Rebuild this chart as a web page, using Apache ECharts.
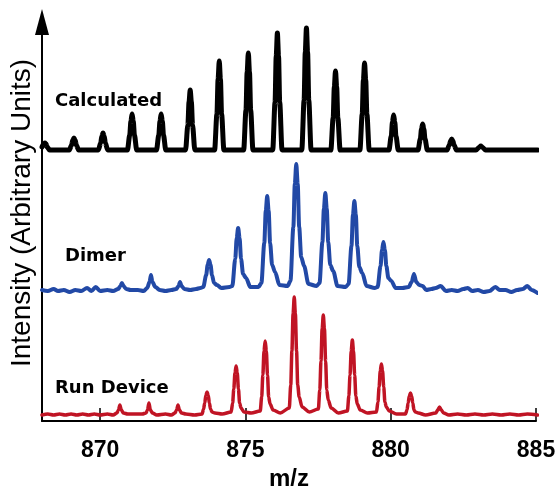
<!DOCTYPE html>
<html>
<head>
<meta charset="utf-8">
<script src="https://cdn.jsdelivr.net/npm/echarts@6/dist/echarts.min.js"></script>
<style>
html,body{margin:0;padding:0;background:#fff;}
#chart{width:558px;height:486px;}
</style>
</head>
<body>
<div id="chart"></div>
<script>
// x-axis ticks
const tickValues = [870, 875, 880, 885];
const traceNames = ['Calculated', 'Dimer', 'Run Device'];

// Calculated (black) trace: m/z and intensity points
const calcMz = [868.00,868.06,868.10,868.14,868.18,868.26,
  868.94,869.02,869.06,869.10,869.14,869.18,869.26,
  869.94,870.02,870.06,870.10,870.14,870.18,870.26,
  870.94,871.02,871.06,871.10,871.14,871.18,871.26,
  871.94,872.02,872.06,872.10,872.14,872.18,872.26,
  872.94,873.02,873.06,873.10,873.14,873.18,873.26,
  873.94,874.02,874.06,874.10,874.14,874.18,874.26,
  874.94,875.02,875.06,875.10,875.14,875.18,875.26,
  875.94,876.02,876.06,876.10,876.14,876.18,876.26,
  876.94,877.02,877.06,877.10,877.14,877.18,877.26,
  877.94,878.02,878.06,878.10,878.14,878.18,878.26,
  878.94,879.02,879.06,879.10,879.14,879.18,879.26,
  879.94,880.02,880.06,880.10,880.14,880.18,880.26,
  880.94,881.02,881.06,881.10,881.14,881.18,881.26,
  881.94,882.02,882.06,882.10,882.14,882.18,882.26,
  882.94,883.02,883.06,883.10,883.14,883.18,883.26,
  885.05];
const calcInt = [3,6,7,6,3,0,
  0,5,10,12,10,5,0,
  0,7,14,17,14,7,0,
  0,15,29,36,29,15,0,
  0,15,29,36,29,15,0,
  0,25,48,60,48,25,0,
  0,36,71,89,71,36,0,
  0,40,78,97,78,40,0,
  0,48,94,117,94,48,0,
  0,50,98,122,98,50,0,
  0,32,63,79,63,32,0,
  0,36,70,87,70,36,0,
  0,14,28,35,28,14,0,
  0,11,21,26,21,11,0,
  0,5,9,11,9,5,0,
  0,2,3,4,3,2,0,
  0];

// Dimer (blue) trace
const dimerMz = [868.00,868.20,868.40,868.55,868.75,868.95,869.15,869.35,869.55,869.70,869.85,870.00,870.25,870.45,
  870.62,870.70,870.75,870.80,870.90,871.05,871.30,871.50,
  871.62,871.70,871.75,871.80,871.90,872.05,872.25,872.45,
  872.62,872.70,872.75,872.80,872.90,873.10,873.30,
  873.45,873.55,873.65,873.70,873.75,873.80,873.85,873.92,874.02,874.17,
  874.45,874.55,874.65,874.70,874.75,874.80,874.85,874.92,875.02,875.17,
  875.45,875.55,875.65,875.70,875.75,875.80,875.85,875.92,876.02,876.17,
  876.45,876.55,876.65,876.70,876.75,876.80,876.85,876.92,877.02,877.17,
  877.45,877.55,877.65,877.70,877.75,877.80,877.85,877.92,878.02,878.17,
  878.45,878.55,878.65,878.70,878.75,878.80,878.85,878.92,879.02,879.17,
  879.45,879.55,879.65,879.70,879.75,879.80,879.85,879.92,880.02,880.17,
  880.40,880.62,880.72,880.80,880.88,880.98,881.10,881.22,881.40,881.55,881.72,881.90,
  882.10,882.30,882.50,882.65,882.80,883.00,883.20,883.40,883.60,883.75,883.95,
  884.15,884.35,884.55,884.70,884.85,885.05];
const dimerInt = [1,0,2,0,1,-1,1,0,3,0,4,0,1,0,
  2,5,8,5,2,1,1,0,
  3,9,16,9,4,1,0,1,
  2,5,9,5,2,1,2,
  3,4,16,26,31,26,16,8,6,3,
  4,5,32,53,63,53,32,17,13,4,
  4,8,48,80,95,80,48,26,19,6,
  5,10,64,107,127,107,64,34,25,7,
  5,8,49,82,98,82,49,26,20,5,
  4,7,45,76,90,76,45,24,18,5,
  3,4,25,41,49,41,25,13,10,3,
  3,4,9,17,9,6,5,1,2,3,5,0,
  1,0,2,3,0,1,-1,0,4,1,1,
  -1,1,2,5,1,-2];

// Run Device (red) trace
const runMz = [868.00,868.20,868.40,868.60,868.80,869.00,869.20,869.40,869.60,869.80,870.00,870.25,870.45,
  870.58,870.63,870.68,870.73,870.80,870.95,871.25,871.45,
  871.58,871.63,871.68,871.73,871.80,871.95,872.25,872.45,
  872.58,872.63,872.68,872.73,872.80,872.95,873.25,
  873.51,873.56,873.60,873.64,873.68,873.72,873.76,873.80,873.85,873.95,874.20,
  874.51,874.56,874.60,874.64,874.68,874.72,874.76,874.80,874.85,874.95,875.20,
  875.51,875.56,875.60,875.64,875.68,875.72,875.76,875.80,875.85,875.95,876.20,
  876.51,876.56,876.60,876.64,876.68,876.72,876.76,876.80,876.85,876.95,877.20,
  877.51,877.56,877.60,877.64,877.68,877.72,877.76,877.80,877.85,877.95,878.20,
  878.51,878.56,878.60,878.64,878.68,878.72,878.76,878.80,878.85,878.95,879.20,
  879.51,879.56,879.60,879.64,879.68,879.72,879.76,879.80,879.85,879.95,880.20,
  880.51,880.56,880.60,880.64,880.68,880.72,880.76,880.80,880.85,880.95,881.20,
  881.55,881.62,881.68,881.74,881.82,882.00,882.30,882.60,882.90,883.20,883.50,883.80,884.10,884.40,884.70,885.05];
const runInt = [0,1,0,1,0,1,0,1,0,1,0,1,0,
  2,5,10,5,2,1,1,1,
  2,5,12,5,2,0,1,0,
  2,5,10,5,2,1,0,
  1,6,12,20,23,20,12,6,3,2,1,
  3,12,26,42,49,42,26,12,7,3,2,
  4,18,40,64,74,64,40,18,11,5,2,
  7,30,64,101,118,101,64,30,18,8,3,
  6,25,54,86,100,86,54,25,15,7,2,
  4,19,40,64,75,64,40,19,11,5,2,
  3,13,28,44,51,44,28,13,8,4,1,
  1,5,12,19,22,19,12,5,3,2,0,
  2,5,8,5,2,0,1,0,1,0,1,0,1,0,1,0];

const offsets = [271, 130, 6];
const colors = ['#000000', '#2249a6', '#c01424'];
const widths = [5, 4, 3.5];

function build(mz, inten, off) {
  return mz.map((m, i) => [m, inten[i] + off]);
}

const chart = echarts.init(document.getElementById('chart'));
const LIB = '"Liberation Sans", Arial, sans-serif';
const DJ = '"DejaVu Sans", sans-serif';

chart.setOption({
  animation: false,
  backgroundColor: '#ffffff',
  grid: {left: 42, right: 22, top: 22, bottom: 65, containLabel: false, outerBoundsMode: 'none'},
  xAxis: {
    type: 'value', min: 868, max: 885,
    name: 'm/z', nameLocation: 'middle', nameGap: 35,
    nameTextStyle: {fontFamily: LIB, fontWeight: 'bold', fontSize: 24, color: '#000'},
    axisLine: {show: true, onZero: false, lineStyle: {color: '#000', width: 2}},
    axisTick: {show: true, inside: true, length: 13, customValues: tickValues, lineStyle: {color: '#000', width: 1.5}},
    axisLabel: {show: true, customValues: tickValues, margin: 18, fontFamily: LIB, fontWeight: 'bold', fontSize: 23, color: '#000'},
    splitLine: {show: false}
  },
  yAxis: {
    type: 'value', min: 0, max: 399,
    axisLine: {show: true, onZero: false, symbol: ['none', 'triangle'], symbolSize: [14, 26], lineStyle: {color: '#000', width: 2}},
    axisTick: {show: false}, axisLabel: {show: false}, splitLine: {show: false}
  },
  series: [
    {type: 'line', name: traceNames[0], data: build(calcMz, calcInt, offsets[0]), showSymbol: false, smooth: 0.3, smoothMonotone: 'x',
      lineStyle: {color: colors[0], width: widths[0], join: 'round', cap: 'round'}},
    {type: 'line', name: traceNames[1], data: build(dimerMz, dimerInt, offsets[1]), showSymbol: false, smooth: 0.3, smoothMonotone: 'x',
      lineStyle: {color: colors[1], width: widths[1], join: 'round', cap: 'round'}},
    {type: 'line', name: traceNames[2], data: build(runMz, runInt, offsets[2]), showSymbol: false, smooth: 0.3, smoothMonotone: 'x',
      lineStyle: {color: colors[2], width: widths[2], join: 'round', cap: 'round'}}
  ],
  graphic: [
    {type: 'text', x: 22, y: 213, rotation: Math.PI / 2,
      style: {text: 'Intensity (Arbitrary Units)', font: '28px ' + LIB, fill: '#000', textAlign: 'center', textVerticalAlign: 'middle'}},
    {type: 'text', x: 55, y: 101, style: {text: traceNames[0], font: 'bold 18px ' + DJ, fill: '#000', textAlign: 'left', textVerticalAlign: 'middle'}},
    {type: 'text', x: 65, y: 256, style: {text: traceNames[1], font: 'bold 18px ' + DJ, fill: '#000', textAlign: 'left', textVerticalAlign: 'middle'}},
    {type: 'text', x: 55, y: 388, style: {text: traceNames[2], font: 'bold 18px ' + DJ, fill: '#000', textAlign: 'left', textVerticalAlign: 'middle'}}
  ]
});
</script>
</body>
</html>
